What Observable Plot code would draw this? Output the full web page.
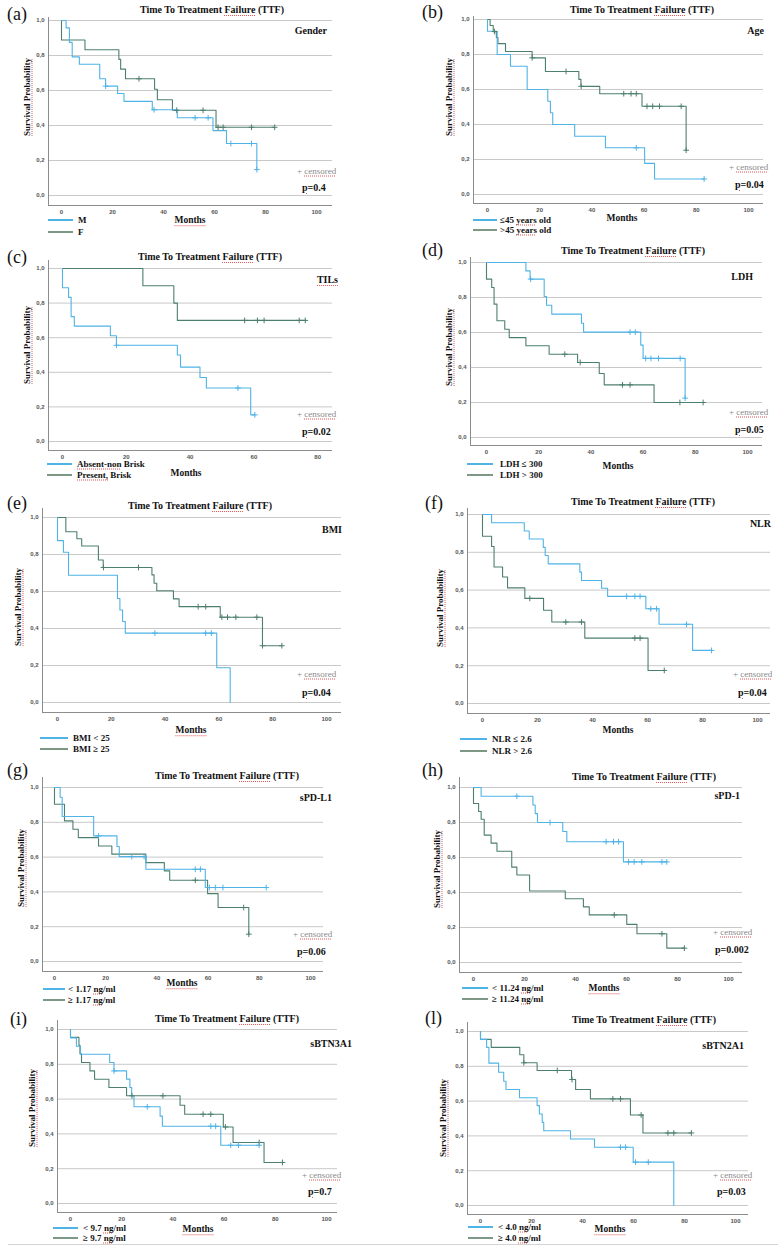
<!DOCTYPE html>
<html><head><meta charset="utf-8">
<script src="https://cdn.jsdelivr.net/npm/d3@7"></script>
<script src="https://cdn.jsdelivr.net/npm/@observablehq/plot@0.6"></script>
<style>
html,body{margin:0;padding:0;background:#fff;}
#fig{position:relative;width:781px;height:1248px;overflow:hidden;background:#fff;font-family:"Liberation Serif","Times New Roman",serif;color:#111;}
.t{position:absolute;white-space:nowrap;line-height:1;}
.sp{text-decoration:underline dotted #e25555;text-decoration-thickness:1px;text-underline-offset:1.5px;}
.plot{position:absolute;}
.leg{position:absolute;height:1.5px;}
</style></head><body><div id="fig"></div><script>
// ---------- DATA ----------
const chartTitle = "Time To Treatment Failure (TTF)";
const panelLetters = ["(a)","(b)","(c)","(d)","(e)","(f)","(g)","(h)","(i)","(l)"];
const variableNames = ["Gender","Age","TILs","LDH","BMI","NLR","sPD-L1","sPD-1","sBTN3A1","sBTN2A1"];
const pValues = ["0.4","0.04","0.02","0.05","0.04","0.04","0.06","0.002","0.7","0.03"];
const legendBlue = ["M","≤45 years old","Absent-non Brisk","LDH ≤ 300","BMI < 25","NLR ≤ 2.6","< 1.17 ng/ml","< 11.24 ng/ml","< 9.7 ng/ml","< 4.0 ng/ml"];
const legendGreen = ["F",">45 years old","Present, Brisk","LDH > 300","BMI ≥ 25","NLR > 2.6","≥ 1.17 ng/ml","≥ 11.24 ng/ml","≥ 9.7 ng/ml","≥ 4.0 ng/ml"];
const yTicks = [0, 0.2, 0.4, 0.6, 0.8, 1.0];
const xTicks100 = [0, 20, 40, 60, 80, 100];
const xTicks80 = [0, 20, 40, 60, 80];

// (a) Gender
const genderM_steps = [[1.8,0.958],[3.1,0.875],[4.2,0.792],[7.0,0.75],[15.0,0.667],[17.3,0.625],[22.0,0.583],[24.5,0.538],[35.6,0.49],[45.4,0.444],[59.4,0.371],[64.7,0.297],[76.6,0.148]];
const genderM_censored = [17.3,36.3,52.4,57.5,66.4,74.5,76.6];
const genderF_steps = [[0,0.889],[9.2,0.833],[22.5,0.778],[23.2,0.722],[25.1,0.667],[36.5,0.607],[37.6,0.547],[43.5,0.487],[60.6,0.39]];
const genderF_censored = [30.4,45.2,55.5,61.4,63.4,74.5,83.6];
// (b) Age
const ageYoung_steps = [[0,0.933],[3.7,0.80],[8.8,0.733],[15.2,0.60],[23.1,0.533],[24.1,0.467],[25.0,0.40],[33.4,0.333],[45.2,0.267],[60.2,0.178],[64.0,0.089]];
const ageYoung_censored = [57.0,83.0];
const ageOld_steps = [[1.0,0.966],[2.2,0.931],[3.4,0.897],[4.0,0.862],[6.9,0.817],[17.1,0.781],[22.2,0.703],[35.0,0.658],[35.8,0.618],[43.0,0.576],[59.2,0.504],[76.1,0.253]];
const ageOld_censored = [2.7,17.1,30.1,35.9,52.2,55.0,57.0,61.1,63.3,65.9,74.2,76.1];
// (c) TILs
const tilsAbsent_steps = [[0,0.889],[1.9,0.833],[2.7,0.722],[3.7,0.667],[15.0,0.611],[16.9,0.556],[36.0,0.50],[37.0,0.43],[43.1,0.37],[45.1,0.309],[59.0,0.154]];
const tilsAbsent_censored = [16.9,55.0,60.3];
const tilsPresent_steps = [[25.2,0.90],[34.9,0.80],[36.0,0.70]];
const tilsPresent_censored = [57.1,61.1,63.2,74.2,76.1];
// (d) LDH
const ldhLow_steps = [[15.1,0.952],[16.7,0.905],[22.1,0.806],[23.0,0.756],[25.0,0.705],[36.4,0.653],[37.2,0.602],[59.1,0.528],[60.0,0.452],[76.1,0.225]];
const ldhLow_censored = [16.9,55.0,57.0,61.0,63.0,65.9,74.2,76.1];
const ldhHigh_steps = [[0,0.905],[2.0,0.857],[2.9,0.762],[4.0,0.667],[7.0,0.619],[8.7,0.571],[15.1,0.524],[24.0,0.476],[34.9,0.429],[43.2,0.366],[45.1,0.301],[64.2,0.20]];
const ldhHigh_censored = [30.0,35.9,52.1,55.0,74.1,83.0];
// (e) BMI
const bmiLow_steps = [[0,0.875],[2.2,0.8125],[4.1,0.6875],[22.3,0.5625],[23.2,0.50],[24.2,0.4375],[25.2,0.375],[59.2,0.1875],[64.2,0]];
const bmiLow_censored = [36.2,55.1,57.2];
const bmiHigh_steps = [[3.1,0.923],[7.2,0.885],[9.0,0.846],[15.2,0.77],[17.0,0.73],[35.1,0.69],[35.9,0.645],[36.9,0.604],[43.1,0.56],[45.2,0.518],[60.5,0.461],[76.2,0.307]];
const bmiHigh_censored = [17.1,30.1,52.3,55.1,61.1,63.2,66.3,74.1,76.2,83.4];
// (f) NLR
const nlrLow_steps = [[3.3,0.956],[15.2,0.913],[17.0,0.870],[22.1,0.826],[22.8,0.783],[23.9,0.739],[35.4,0.695],[36.0,0.651],[43.3,0.61],[45.5,0.567],[59.4,0.501],[64.2,0.419],[76.4,0.281]];
const nlrLow_censored = [52.4,55.4,57.3,61.2,63.3,74.2,83.3];
const nlrHigh_steps = [[0,0.885],[3.3,0.831],[4.2,0.722],[7.3,0.669],[9.1,0.612],[15.4,0.556],[22.2,0.493],[25.2,0.431],[37.2,0.346],[60.2,0.175]];
const nlrHigh_censored = [17.2,30.3,36.0,55.4,57.3,66.1];
// (g) sPD-L1
const spdl1Low_steps = [[2.2,0.944],[3.0,0.833],[15.3,0.722],[24.4,0.661],[25.3,0.603],[35.7,0.53],[58.9,0.425]];
const spdl1Low_censored = [17.2,30.2,35.0,55.0,57.0,60.5,62.8,65.8,82.7];
const spdl1High_steps = [[0,0.904],[3.9,0.808],[7.2,0.76],[9.3,0.712],[17.2,0.664],[22.4,0.617],[35.7,0.568],[42.9,0.521],[45.0,0.467],[59.8,0.39],[63.9,0.31],[75.9,0.157]];
const spdl1High_censored = [55.0,73.9,75.9];
// (h) sPD-1
const spd1Low_steps = [[3.0,0.95],[23.3,0.90],[24.2,0.851],[25.1,0.80],[35.0,0.749],[36.6,0.69],[58.8,0.575]];
const spd1Low_censored = [17.0,30.0,52.0,54.9,56.9,60.8,63.0,66.0,73.9,75.8];
const spd1High_steps = [[0,0.909],[2.0,0.863],[3.0,0.819],[4.2,0.728],[6.9,0.682],[9.2,0.636],[15.0,0.545],[17.0,0.50],[22.0,0.409],[36.0,0.364],[43.1,0.318],[45.4,0.272],[60.1,0.218],[64.1,0.164],[75.8,0.082]];
const spd1High_censored = [55.2,73.9,82.7];
// (i) sBTN3A1
const sbtn3Low_steps = [[0,0.952],[2.3,0.904],[3.9,0.858],[15.3,0.81],[17.0,0.762],[21.9,0.715],[23.2,0.667],[23.9,0.619],[24.8,0.556],[35.0,0.502],[35.9,0.444],[58.7,0.335]];
const sbtn3Low_censored = [17.0,30.0,54.8,56.7,62.6,65.6,73.7];
const sbtn3High_steps = [[0,0.955],[3.3,0.909],[3.7,0.86],[4.3,0.81],[7.6,0.762],[9.4,0.714],[15.0,0.667],[21.9,0.619],[42.8,0.565],[44.6,0.513],[59.7,0.44],[63.5,0.351],[75.6,0.236]];
const sbtn3High_censored = [24.0,36.1,51.8,54.8,60.5,73.7,82.8];
// (l) sBTN2A1
const sbtn2Low_steps = [[0,0.955],[2.4,0.909],[3.3,0.818],[7.1,0.766],[9.1,0.714],[10.0,0.667],[15.3,0.619],[22.2,0.574],[23.1,0.526],[24.2,0.478],[24.8,0.43],[35.3,0.382],[44.7,0.335],[59.9,0.249],[75.8,0]];
const sbtn2Low_censored = [54.9,56.9,60.8,65.8];
const sbtn2High_steps = [[0,0.955],[4.2,0.909],[15.4,0.866],[17.0,0.82],[22.2,0.776],[35.7,0.724],[37.3,0.667],[43.1,0.613],[58.8,0.52],[63.7,0.417]];
const sbtn2High_censored = [17.0,30.1,35.9,51.9,54.9,63.0,73.5,75.8,82.7];

const seriesBlue = [[genderM_steps,genderM_censored],[ageYoung_steps,ageYoung_censored],[tilsAbsent_steps,tilsAbsent_censored],[ldhLow_steps,ldhLow_censored],[bmiLow_steps,bmiLow_censored],[nlrLow_steps,nlrLow_censored],[spdl1Low_steps,spdl1Low_censored],[spd1Low_steps,spd1Low_censored],[sbtn3Low_steps,sbtn3Low_censored],[sbtn2Low_steps,sbtn2Low_censored]];
const seriesGreen = [[genderF_steps,genderF_censored],[ageOld_steps,ageOld_censored],[tilsPresent_steps,tilsPresent_censored],[ldhHigh_steps,ldhHigh_censored],[bmiHigh_steps,bmiHigh_censored],[nlrHigh_steps,nlrHigh_censored],[spdl1High_steps,spdl1High_censored],[spd1High_steps,spd1High_censored],[sbtn3High_steps,sbtn3High_censored],[sbtn2High_steps,sbtn2High_censored]];
const xTickSets = [xTicks100,xTicks100,xTicks80,xTicks100,xTicks100,xTicks100,xTicks100,xTicks100,xTicks100,xTicks100];

// ---------- LAYOUT (page pixels) ----------
const boxes = [
 {left:48,right:332,yTop:20,yZero:195,axisTop:17,axisBottom:205,x0:61,x100:316},
 {left:473,right:763,yTop:19,yZero:194,axisTop:16,axisBottom:203,x0:487,x100:748},
 {left:48,right:332,yTop:268,yZero:441,axisTop:260,axisBottom:450,x0:62,x100:381},
 {left:470,right:762,yTop:262,yZero:437,axisTop:257,axisBottom:445,x0:486,x100:747},
 {left:42,right:341,yTop:517,yZero:702,axisTop:508,axisBottom:712,x0:57,x100:326},
 {left:467,right:770,yTop:514,yZero:703,axisTop:508,axisBottom:713,x0:482,x100:757},
 {left:42,right:323,yTop:787,yZero:961,axisTop:777,axisBottom:971,x0:54,x100:310},
 {left:459,right:742,yTop:787,yZero:962,axisTop:777,axisBottom:972,x0:473,x100:728},
 {left:57,right:337,yTop:1029,yZero:1203,axisTop:1020,axisBottom:1212,x0:70,x100:326},
 {left:467,right:748,yTop:1031,yZero:1205,axisTop:1022,axisBottom:1214,x0:480,x100:735}
];
const texts = [
 {label:[7,14],title:[212,10],vr:[327,31],cens:[297,171],p:[302,188],months:[190,221],leg:{x1:48,x2:73,y:[220,232],lx:78},ylab:[27,97]},
 {label:[422,12],title:[642,10],vr:[764,31],cens:[729,167],p:[735,185],months:[622,219],leg:{x1:473,x2:497,y:[220,230],lx:500},ylab:[449,97]},
 {label:[7,257],title:[210,257],vr:[338,280],cens:[297,414],p:[302,432],months:[186,474],leg:{x1:47,x2:72,y:[464,475],lx:77},ylab:[27,345]},
 {label:[422,250],title:[633,251],vr:[753,277],cens:[729,412],p:[735,430],months:[618,467],leg:{x1:467,x2:493,y:[464,475],lx:500},ylab:[449,347]},
 {label:[7,503],title:[200,506],vr:[342,530],cens:[297,674],p:[302,693],months:[191,731],leg:{x1:40,x2:68,y:[738,749],lx:73},ylab:[18,607]},
 {label:[425,503],title:[643,502],vr:[771,524],cens:[733,674],p:[738,693],months:[618,731],leg:{x1:460,x2:487,y:[739,751],lx:492},ylab:[440,608]},
 {label:[7,770],title:[227,776],vr:[332,798],cens:[293,934],p:[297,952],months:[182,984],leg:{x1:43,x2:65,y:[989,1000],lx:68},ylab:[21,868]},
 {label:[422,770],title:[644,777],vr:[740,796],cens:[713,932],p:[715,950],months:[604,989],leg:{x1:462,x2:488,y:[988,999],lx:492},ylab:[437,869]},
 {label:[10,1019],title:[227,1019],vr:[352,1044],cens:[302,1175],p:[308,1192],months:[198,1230],leg:{x1:53,x2:78,y:[1228,1238],lx:83},ylab:[32,1108]},
 {label:[425,1018],title:[644,1020],vr:[744,1046],cens:[713,1175],p:[717,1192],months:[610,1230],leg:{x1:468,x2:493,y:[1227,1238],lx:498},ylab:[443,1118]}
];
const BLUE = "#4fb3e6", GREEN = "#4d7f6f", LEG_GREEN = "#7d9884";
const underlineMonths = [true,false,false,false,true,false,true,true,true,true];

const fig = document.getElementById("fig");
function txt(x, y, html, css, anchor, rotate) {
  const d = document.createElement("div");
  d.className = "t";
  d.innerHTML = html;
  Object.assign(d.style, css || {});
  d.style.left = x + "px"; d.style.top = y + "px";
  const tx = anchor === "middle" ? "-50%" : anchor === "end" ? "-100%" : "0";
  d.style.transform = `translate(${tx},-50%)` + (rotate ? ` rotate(${rotate}deg)` : "");
  fig.appendChild(d);
}
function survAt(steps, t) {
  let s = 1;
  for (const [ti, si] of steps) if (ti <= t + 1e-9) s = si;
  return s;
}
function curve(steps, cens) {
  const pts = [[0, 1], ...steps];
  const last = pts[pts.length - 1];
  const end = cens.length ? Math.max(...cens) : 0;
  if (end > last[0]) pts.push([end, last[1]]);
  return pts.map(([t, s]) => ({t, s}));
}
function censPts(steps, cens) {
  return cens.map(t => ({t, s: survAt(steps, t)}));
}

for (let i = 0; i < 10; i++) {
  const b = boxes[i], tx = texts[i];
  const ppm = (b.x100 - b.x0) / 100;
  const ppy = b.yZero - b.yTop;
  const xmin = (b.left - b.x0) / ppm, xmax = (b.right - b.x0) / ppm;
  const ymin = -(b.axisBottom - b.yZero) / ppy, ymax = 1 + (b.yTop - b.axisTop) / ppy;
  const mL = 26, mR = 2, mT = 2, mB = 14;
  const width = b.right - b.left + mL + mR;
  const height = b.axisBottom - b.axisTop + mT + mB;
  const [bs, bc] = seriesBlue[i], [gs, gc] = seriesGreen[i];
  const svg = Plot.plot({
    width, height, marginLeft: mL, marginRight: mR, marginTop: mT, marginBottom: mB,
    style: {fontFamily: "'Liberation Sans', Arial, sans-serif", fontSize: "6px", fontWeight: "bold", color: "#555", background: "transparent", overflow: "visible"},
    x: {domain: [xmin, xmax]},
    y: {domain: [ymin, ymax]},
    marks: [
      Plot.ruleY(yTicks, {stroke: "#c9c9c9", strokeWidth: 1}),
      Plot.ruleX([xmin], {stroke: "#8c8c8c", strokeWidth: 1}),
      Plot.ruleY([ymin], {stroke: "#8c8c8c", strokeWidth: 1}),
      Plot.axisX({ticks: xTickSets[i], tickSize: 0, tickPadding: 4, tickFormat: d => String(d), label: null, fontSize: 6, fontWeight: "bold"}),
      Plot.axisY({ticks: yTicks, tickSize: 0, tickPadding: 4, tickFormat: d => d.toFixed(1).replace(".", ","), label: null, fontSize: 6, fontWeight: "bold"}),
      Plot.line(curve(gs, gc), {x: "t", y: "s", stroke: GREEN, strokeWidth: 1.1, curve: "step-after"}),
      Plot.line(curve(bs, bc), {x: "t", y: "s", stroke: BLUE, strokeWidth: 1.1, curve: "step-after"}),
      Plot.dot(censPts(gs, gc), {x: "t", y: "s", symbol: "plus", r: 2, stroke: GREEN, strokeWidth: 1}),
      Plot.dot(censPts(bs, bc), {x: "t", y: "s", symbol: "plus", r: 2, stroke: BLUE, strokeWidth: 1})
    ]
  });
  svg.classList.add("plot");
  svg.style.left = (b.left - mL) + "px";
  svg.style.top = (b.axisTop - mT) + "px";
  fig.appendChild(svg);

  // texts
  txt(tx.label[0], tx.label[1], panelLetters[i], {fontSize: "18px"}, "start");
  txt(tx.title[0], tx.title[1], chartTitle.replace("Failure", '<span class="sp">Failure</span>'), {fontSize: "10px", fontWeight: "bold"}, "middle");
  const vn = variableNames[i] === "TILs" ? '<span class="sp">TILs</span>' : variableNames[i];
  txt(tx.vr[0], tx.vr[1], vn, {fontSize: "10px", fontWeight: "bold"}, "end");
  txt(tx.cens[0], tx.cens[1], '+ <span class="sp">censored</span>', {fontSize: "9px", color: "#8a8a8a"}, "start");
  txt(tx.p[0], tx.p[1], '<span class="sp">p</span>=' + pValues[i], {fontSize: "10px", fontWeight: "bold"}, "start");
  txt(tx.months[0], tx.months[1], underlineMonths[i] ? '<span class="sp">Months</span>' : "Months", {fontSize: "9.5px", fontWeight: "bold"}, "middle");
  txt(tx.ylab[0], tx.ylab[1], '<span class="sp">Survival Probability</span>', {fontSize: "9px", fontWeight: "bold"}, "middle", -90);
  // legend
  const lg = tx.leg;
  [[BLUE, legendBlue[i], lg.y[0]], [LEG_GREEN, legendGreen[i], lg.y[1]]].forEach(([c, lab, y]) => {
    const l = document.createElement("div");
    l.className = "leg";
    l.style.left = lg.x1 + "px"; l.style.top = (y - 0.75) + "px";
    l.style.width = (lg.x2 - lg.x1) + "px"; l.style.background = c;
    fig.appendChild(l);
    const html = lab.replace("ng/ml", '<span class="sp">ng</span>/ml').replace("years", '<span class="sp">years</span>').replace("Absent-non", '<span class="sp">Absent-non</span>').replace("Present,", '<span class="sp">Present,</span>');
    txt(lg.lx, y, html, {fontSize: "9px", fontWeight: "bold"}, "start");
  });
}
const sep = document.createElement("div");
Object.assign(sep.style, {position: "absolute", left: "8px", top: "1244px", width: "770px", height: "1px", background: "#d4d4d4"});
fig.appendChild(sep);
</script></body></html>
